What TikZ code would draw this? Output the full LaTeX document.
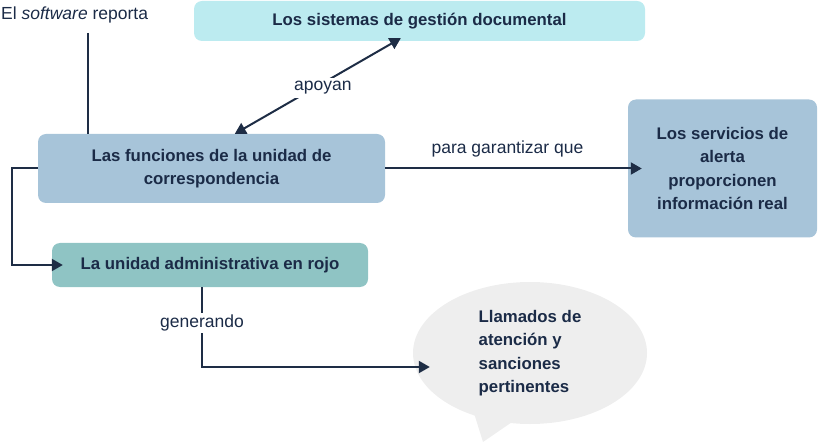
\documentclass[tikz,border=0pt]{standalone}
\usepackage{fontspec}
\setmainfont{Liberation Sans}
\usetikzlibrary{arrows.meta,calc,shapes.geometric}
\definecolor{txt}{HTML}{1B2B47}
\definecolor{ln}{HTML}{1E2D45}
\definecolor{cyanbox}{HTML}{BCEBF0}
\definecolor{bluebox}{HTML}{A7C4D9}
\definecolor{tealbox}{HTML}{8FC4C4}
\definecolor{bubcol}{HTML}{EEEEEE}
\begin{document}
\begin{tikzpicture}[x=1pt,y=-1pt,
  box/.style={rectangle,rounded corners=8pt,inner sep=0pt,align=center,text=txt,
    font=\fontsize{16.8}{23.5}\selectfont\bfseries},
  lbl/.style={text=txt,font=\fontsize{17.5}{20}\selectfont,inner sep=1pt},
  conn/.style={draw=ln,line width=2pt,-{Triangle[length=11pt,width=12pt]}},
  conn2/.style={draw=ln,line width=2pt,{Triangle[length=11pt,width=12pt]}-{Triangle[length=11pt,width=12pt]}},
  plain/.style={draw=ln,line width=2pt}]
\useasboundingbox (0,0) rectangle (818,443);
\node[box,fill=cyanbox,minimum width=451pt,minimum height=40pt] (sist) at (419.5,21) {Los sistemas de gestión documental};
\node[box,fill=bluebox,minimum width=347pt,minimum height=69pt] (func) at (211.5,168.5) {Las funciones de la unidad de\\correspondencia};
\node[box,fill=tealbox,minimum width=316pt,minimum height=44pt] (admin) at (210,265) {La unidad administrativa en rojo};
\node[box,fill=bluebox,minimum width=189pt,minimum height=138pt] (serv) at (722.5,168.5) {Los servicios de\\alerta\\proporcionen\\información real};
\fill[bubcol] (473,410) -- (483,442) -- (515,420) -- cycle;
\node[ellipse,fill=bubcol,minimum width=234pt,minimum height=142pt,inner sep=0pt] (bub) at (530,353) {};
\node[box,align=left] (bubtxt) at (bub.center) {Llamados de\\atención y\\sanciones\\pertinentes};
\node[lbl,anchor=west] (sw) at (0,15) {El \textit{software} reporta};
\coordinate (swl) at (88,33);
\draw[plain] (swl) -- (swl |- func.north);
\draw[conn2] ([xshift=197pt]func.north west) -- node[lbl,fill=white,inner sep=3pt,xshift=5pt,yshift=-2pt] {apoyan} ([xshift=207pt,yshift=3pt]sist.south west);
\draw[conn] (func.east) -- node[lbl,above=9pt,xshift=-6pt] {para garantizar que} ([xshift=14pt]serv.west);
\draw[conn] (func.west) -- ++(-26,0) |- ([xshift=11pt]admin.west);
\draw[conn] ([xshift=-8pt]admin.south) |- node[lbl,pos=0.225,fill=white,inner sep=2pt] {generando} ([xshift=17pt,yshift=-14pt]bub.west);
\end{tikzpicture}
\end{document}
